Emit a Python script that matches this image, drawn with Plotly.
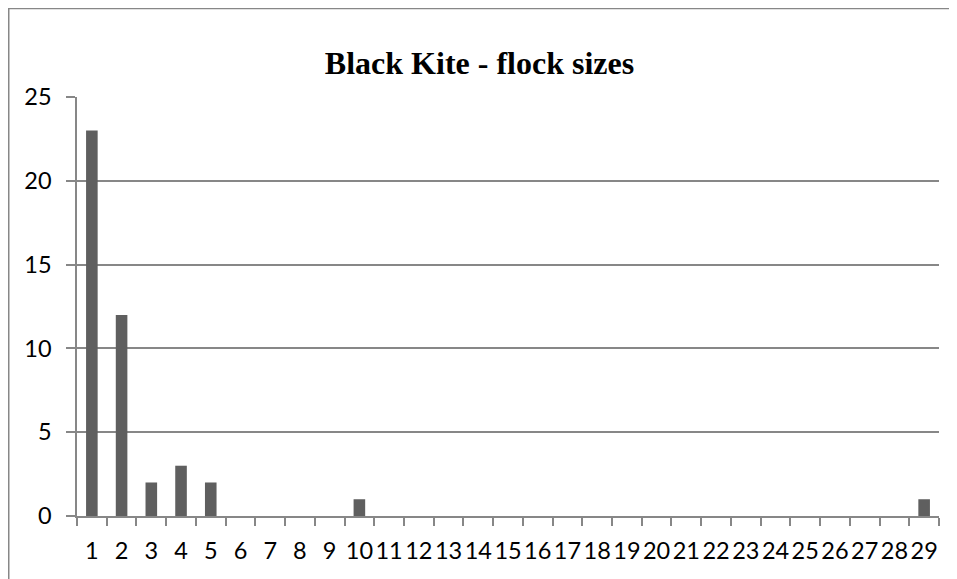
import plotly.graph_objects as go

categories = [str(i) for i in range(1, 30)]
counts = [23, 12, 2, 3, 2, 0, 0, 0, 0, 1, 0, 0, 0, 0, 0, 0, 0, 0, 0, 0,
          0, 0, 0, 0, 0, 0, 0, 0, 1]
y_ticks = [0, 5, 10, 15, 20, 25]
title_text = "Black Kite - flock sizes"

# page body has an 8px default margin, so the figure is sized to fit the window
W, H = 949, 571
ML, MR, MT, MB = 69, 18, 89, 63
pw, ph = W - ML - MR, H - MT - MB

def px_x(x):
    return (x - ML) / pw

def px_y(y):
    return (H - MB - y) / ph

grid_col = "#878787"

fig = go.Figure(go.Bar(x=categories, y=counts, marker=dict(color="#5f5f5f", line=dict(width=0))))

fig.update_layout(
    width=W, height=H,
    margin=dict(l=ML, r=MR, t=MT, b=MB, pad=0),
    paper_bgcolor="white", plot_bgcolor="white",
    bargap=0.61,
    showlegend=False,
    title=dict(text=title_text, x=471.5 / W, xanchor="center",
               y=1 - 55 / H, yanchor="middle", yref="container",
               font=dict(family="Liberation Serif", size=32, color="black", weight="bold")),
    font=dict(family="Lato", size=23.5, color="black"),
    xaxis=dict(type="category", tickson="boundaries", ticks="outside", ticklen=8,
               tickcolor=grid_col, tickwidth=1.5, showline=True, linecolor=grid_col,
               linewidth=1.5, showgrid=False, ticklabelstandoff=13, tickangle=0,
               tickfont=dict(family="Lato", size=23.5, color="black")),
    yaxis=dict(range=[0, 25], tickvals=y_ticks, ticks="outside", ticklen=9,
               tickcolor=grid_col, tickwidth=1.5, showline=True, linecolor=grid_col,
               linewidth=1.5, showgrid=True, gridcolor=grid_col, gridwidth=1.5,
               zeroline=False, ticklabelstandoff=10, ticklabelposition="outside",
               tickfont=dict(family="Lato", size=23.5, color="black")),
    shapes=[dict(type="rect", xref="paper", yref="paper",
                 x0=px_x(0.75), x1=px_x(W + 20), y0=px_y(H + 20), y1=px_y(0.5),
                 line=dict(color=grid_col, width=1.5), fillcolor="rgba(0,0,0,0)", layer="below")],
)

fig.write_html("out.html")
